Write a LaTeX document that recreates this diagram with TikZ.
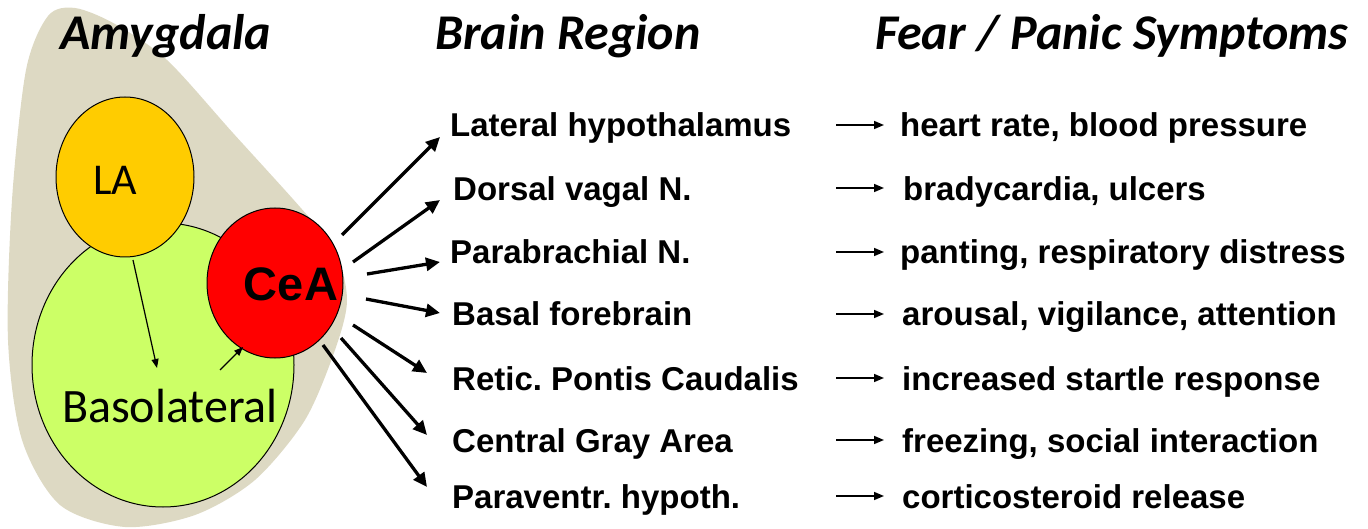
\documentclass[tikz,border=0pt]{standalone}
\usepackage{fontspec}
\setmainfont{Liberation Sans}
\newfontfamily\calfont{Carlito}
\usepackage{tikz}
\usetikzlibrary{arrows.meta,positioning,shapes.geometric,calc}
\definecolor{amyg}{HTML}{DDD9C3}
\definecolor{lacol}{HTML}{FFCC00}
\definecolor{blcol}{HTML}{CCFF66}
\definecolor{ceacol}{HTML}{FF0000}
\frenchspacing

\begin{document}
\begin{tikzpicture}[
  x=1pt, y=-1pt,
  hd/.style={font=\calfont\bfseries\itshape\fontsize{50}{54}\selectfont, anchor=base west, inner sep=0pt},
  rg/.style={font=\bfseries\fontsize{33}{37}\selectfont, anchor=base west, inner sep=0pt},
  nuc/.style={draw, ellipse, inner sep=0pt, line width=1pt},
  big/.style={line width=3.3pt, -{Triangle[length=14pt,width=13pt]}},
  sm/.style={line width=1.6pt, -{Triangle[length=10pt,width=8pt]}},
  thin/.style={line width=1.2pt, -{Triangle[length=9pt,width=7pt]}}
]
\useasboundingbox (0,0) rectangle (1368,529);

\fill[amyg] plot[smooth cycle] coordinates {(48,16) (75,8) (115,24) (167,60) (233,133) (300,207) (335,250) (347,300) (335,350) (305,420) (255,480) (195,515) (125,527) (60,505) (22,440) (8,340) (12,200) (26,70)};

\node[nuc, fill=blcol, minimum width=262pt, minimum height=284pt] (bl) at (163,365) {};
\node[nuc, fill=lacol, minimum width=138pt, minimum height=160pt] (la) at (125,177) {};
\node[nuc, fill=ceacol, minimum width=136pt, minimum height=150pt] (cea) at (275,283) {};

\node[inner sep=0pt, font=\calfont\fontsize{44}{48}\selectfont] (latxt) at (115,180) {LA};
\node[inner sep=0pt, font=\calfont\fontsize{48}{52}\selectfont] (bltxt) at (170,406) {Basolateral};
\node[inner sep=0pt, font=\bfseries\fontsize{47}{50}\selectfont] (ceatxt) at (291,284) {CeA};

\coordinate (blin) at (157,368);
\coordinate (blout) at (220,370);
\draw[thin] (133,260) -- (blin);
\draw[thin] (blout) -- (243,347);

\node[hd] (hamyg) at (60,50) {Amygdala};
\node[hd] (hreg) at (435,50) {Brain Region};
\node[hd] (hsym) at (875,50) {Fear / Panic Symptoms};

\node[rg] (lh) at (450,137) {Lateral hypothalamus};
\node[rg] (dv) at (453,201) {Dorsal vagal N.};
\node[rg] (pb) at (450,264) {Parabrachial N.};
\node[rg] (bf) at (452,326) {Basal forebrain};
\node[rg] (rpc) at (452,390) {Retic. Pontis Caudalis};
\node[rg] (cg) at (452,452) {Central Gray Area};
\node[rg] (pv) at (452,508) {Paraventr. hypoth.};

\node[rg] (s1) at (900,137) {heart rate, blood pressure};
\node[rg] (s2) at (903,201) {bradycardia, ulcers};
\node[rg] (s3) at (900,264) {panting, respiratory distress};
\node[rg] (s4) at (902,326) {arousal, vigilance, attention};
\node[rg] (s5) at (902,390) {increased startle response};
\node[rg] (s6) at (902,452) {freezing, social interaction};
\node[rg] (s7) at (902,508) {corticosteroid release};

\coordinate (c1) at (342,235);
\coordinate (c2) at (353,262);
\coordinate (c3) at (367,274);
\coordinate (c4) at (366,299);
\coordinate (c5) at (353,325);
\coordinate (c6) at (341,338);
\coordinate (c7) at (323,345);

\draw[big] (c1) -- ([xshift=-10pt]lh.base west);
\draw[big] (c2) -- ([xshift=-13pt,yshift=1pt]dv.base west);
\draw[big] (c3) -- ([xshift=-10pt,yshift=2pt]pb.base west);
\draw[big] (c4) -- ([xshift=-12pt,yshift=13pt]bf.base west);
\draw[big] (c5) -- ([xshift=-25pt,yshift=17pt]rpc.base west);
\draw[big] (c6) -- ([xshift=-25pt,yshift=17pt]cg.base west);
\draw[big] (c7) -- ([xshift=-25pt,yshift=21pt]pv.base west);

\draw[sm] ([xshift=-64pt,yshift=12pt]s1.base west) -- ([xshift=-16pt,yshift=12pt]s1.base west);
\draw[sm] ([xshift=-67pt,yshift=13pt]s2.base west) -- ([xshift=-19pt,yshift=13pt]s2.base west);
\draw[sm] ([xshift=-64pt,yshift=12pt]s3.base west) -- ([xshift=-16pt,yshift=12pt]s3.base west);
\draw[sm] ([xshift=-66pt,yshift=12pt]s4.base west) -- ([xshift=-18pt,yshift=12pt]s4.base west);
\draw[sm] ([xshift=-66pt,yshift=12pt]s5.base west) -- ([xshift=-18pt,yshift=12pt]s5.base west);
\draw[sm] ([xshift=-66pt,yshift=12pt]s6.base west) -- ([xshift=-18pt,yshift=12pt]s6.base west);
\draw[sm] ([xshift=-66pt,yshift=12pt]s7.base west) -- ([xshift=-18pt,yshift=12pt]s7.base west);
\end{tikzpicture}
\end{document}
